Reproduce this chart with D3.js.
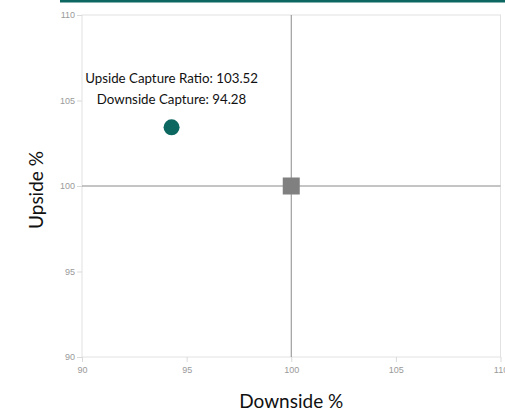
<!DOCTYPE html>
<html lang="en">
<head>
<meta charset="utf-8">
<script src="https://d3js.org/d3.v7.min.js"></script>
<style type="text/css">
	body { margin:0; background:#fff; }
	svg { display:block; }
	.tick text { font-family:"Liberation Sans", Arial, sans-serif; font-size:9px; fill:#9a9a9a; }
	.tick line { stroke:#d9d9d9; }
	.domain { display:none; }
</style>
</head>
<body>
<script type="text/javascript">
	// values
	var xTicks = [90, 95, 100, 105, 110];
	var yTicks = [90, 95, 100, 105, 110];
	var xDomain = [90, 110];
	var yDomain = [90, 110];
	var fundPoint = [{down: 94.28, up: 103.52}];
	var benchPoint = [{down: 100, up: 100}];
	var labels = ["Upside Capture Ratio: 103.52", "Downside Capture: 94.28"];

	var W = 505, H = 418;
	var plotL = 82, plotR = 500.5, plotT = 15, plotB = 357;

	var svg = d3.select("body").append("svg")
		.attr("width", W)
		.attr("height", H);

	// teal strip at the top
	svg.append("rect")
		.attr("x", 60).attr("y", 0)
		.attr("width", W - 60).attr("height", 2.5)
		.style("fill", "#0b6760");

	var x = d3.scaleLinear().domain(xDomain).range([plotL, plotR]);
	var y = d3.scaleLinear().domain(yDomain).range([plotB, plotT]);

	// plot frame
	svg.append("rect")
		.attr("x", plotL).attr("y", plotT)
		.attr("width", plotR - plotL).attr("height", plotB - plotT)
		.style("fill", "none")
		.style("stroke", "#e2e2e2");

	svg.append("g")
		.attr("transform", "translate(0," + plotB + ")")
		.call(d3.axisBottom(x).tickValues(xTicks).tickSize(5).tickPadding(5).tickFormat(d3.format("d")));

	svg.append("g")
		.attr("transform", "translate(" + plotL + ",0)")
		.call(d3.axisLeft(y).tickValues(yTicks).tickSize(5).tickPadding(2).tickFormat(d3.format("d")));

	// crosshair through the benchmark
	svg.append("line")
		.attr("x1", x(100)).attr("x2", x(100))
		.attr("y1", plotT).attr("y2", plotB)
		.style("stroke", "#8a8a8a");
	svg.append("line")
		.attr("x1", plotL).attr("x2", plotR)
		.attr("y1", y(100)).attr("y2", y(100))
		.style("stroke", "#8a8a8a");

	// benchmark square
	svg.selectAll("rect.bench")
		.data(benchPoint)
		.enter()
		.append("rect")
		.attr("class", "bench")
		.attr("x", function(d) { return x(d.down) - 8.5; })
		.attr("y", function(d) { return y(d.up) - 8.5; })
		.attr("width", 17).attr("height", 17)
		.style("fill", "#808080");

	// fund point
	svg.selectAll("circle.fund")
		.data(fundPoint)
		.enter()
		.append("circle")
		.attr("class", "fund")
		.attr("cx", function(d) { return x(d.down); })
		.attr("cy", function(d) { return y(d.up) + 1.5; })
		.attr("r", 8)
		.style("fill", "#0b6760");

	// annotation above the point
	svg.selectAll("text.note")
		.data(labels)
		.enter()
		.append("text")
		.attr("class", "note")
		.attr("x", x(fundPoint[0].down))
		.attr("y", function(d, i) { return y(fundPoint[0].up) - 43 + i * 21; })
		.attr("text-anchor", "middle")
		.style("font-family", "Lato, sans-serif")
		.style("font-size", "13.3px")
		.style("fill", "#111")
		.text(function(d) { return d; });

	// axis titles
	svg.append("text")
		.attr("transform", "translate(43," + ((plotT + plotB) / 2 + 4) + ") rotate(-90)")
		.attr("text-anchor", "middle")
		.style("font-family", "Lato, sans-serif")
		.style("font-size", "19px")
		.style("fill", "#111")
		.text("Upside %");

	svg.append("text")
		.attr("x", x(100))
		.attr("y", 408)
		.attr("text-anchor", "middle")
		.style("font-family", "Lato, sans-serif")
		.style("font-size", "19px")
		.style("fill", "#111")
		.text("Downside %");
</script>
</body>
</html>
